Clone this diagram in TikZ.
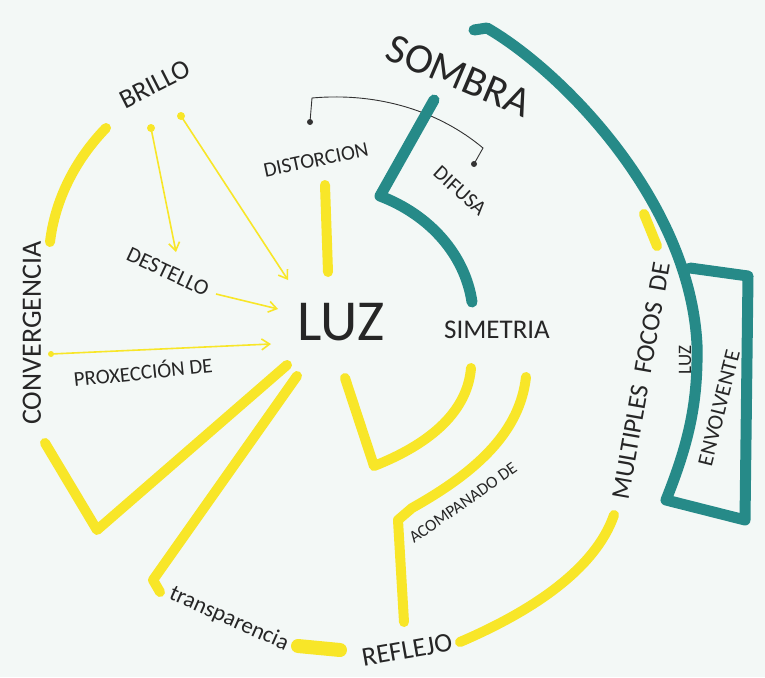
\documentclass[tikz,border=0pt]{standalone}
\usepackage{fontspec}
\setmainfont{Carlito}
\usetikzlibrary{arrows.meta}
\definecolor{marker}{RGB}{248,230,40}
\definecolor{petrol}{RGB}{38,138,136}
\definecolor{paper}{RGB}{243,248,246}
\newcommand{\hwfont}[1]{\fontsize{#1}{#1}\selectfont}
\tikzset{
  hand/.style={text=black!85, inner sep=0pt},
  fat/.style={draw=marker, line width=10pt, line cap=round, line join=round},
  tealpen/.style={draw=petrol, line width=11pt, line cap=round, line join=round},
  pointer/.style={draw=marker, line width=1.6pt, -{Straight Barb[length=8pt,width=11pt]}},
  dot/.style={circle, fill=#1, inner sep=0pt, minimum size=7pt}
}
\begin{document}
\begin{tikzpicture}[x=1pt,y=-1pt]
\fill[paper] (0,0) rectangle (765,677);
\useasboundingbox (0,0) rectangle (765,677);

% words
\node[hand, font=\hwfont{58}] (luz) at (341,322) {LUZ};
\node[hand, font=\hwfont{42}, rotate=-23] (sombra) at (459,76) {SOMBRA};
\node[hand, font=\hwfont{27}, rotate=27] (brillo) at (155,84) {BRILLO};
\node[hand, font=\hwfont{21}, rotate=12] (distorcion) at (316,160) {DISTORCION};
\node[hand, font=\hwfont{21}, rotate=-42] (difusa) at (460,191) {DIFUSA};
\node[hand, font=\hwfont{22}, rotate=-25] (destello) at (168,272) {DESTELLO};
\node[hand, font=\hwfont{21}, rotate=6] (proxeccion) at (143,371) {PROXECCIÓN DE};
\node[hand, font=\hwfont{28}, rotate=90] (convergencia) at (32,333) {CONVERGENCIA};
\node[hand, font=\hwfont{27}] (simetria) at (497,330) {SIMETRIA};
\node[hand, font=\hwfont{17}, rotate=35] (acompanado) at (463,503) {ACOMPANADO DE};
\node[hand, font=\hwfont{23}, rotate=-24] (transparencia) at (229,619) {transparencia};
\node[hand, font=\hwfont{27}, rotate=10] (reflejo) at (407,650) {REFLEJO};
\node[hand, font=\hwfont{26}, rotate=80] (multiples) at (641,381) {MULTIPLES \ FOCOS \ DE};
\node[hand, font=\hwfont{19}, rotate=90] (focosluz) at (685,360) {LUZ};
\node[hand, font=\hwfont{22}, rotate=76] (envolvente) at (719,408) {ENVOLVENTE};

% yellow marker
\draw[fat] (106,128) .. controls (75,160) and (55,200) .. (50,242);
\draw[fat] (45,443) -- (97,530) -- (287,365);
\draw[fat] (297,376) -- (153,580) -- (160,592);
\draw[fat, line width=14pt] (298,646) -- (340,650);
\draw[fat] (460,642) .. controls (530,612) and (595,570) .. (614,515);
\draw[fat] (404,622) -- (398,520) -- (412,508) .. controls (480,470) and (520,430) .. (526,377);
\draw[fat] (345,378) -- (374,466) .. controls (440,440) and (468,405) .. (471,368);
\draw[fat] (325,185) -- (328,272);
\draw[fat] (644,214) -- (657,246);

% thin arrows
\node[dot=marker, minimum size=8pt] (d1) at (151,128) {};
\node[dot=marker, minimum size=8pt] (d2) at (181,116) {};
\node[dot=marker, minimum size=6pt] (d3) at (51,354) {};
\coordinate (t1) at (176,252);
\coordinate (t2) at (288,280);
\coordinate (t3) at (278,309);
\coordinate (t4) at (271,344);
\coordinate (s3) at (216,294);
\draw[pointer] (d1.center) -- (t1);
\draw[pointer] (d2.center) -- (t2);
\draw[pointer] (s3) -- (t3);
\draw[pointer] (d3.center) -- (t4);

% black bracket
\node[dot=black!80, minimum size=6pt] (b1) at (310,122) {};
\node[dot=black!80, minimum size=6pt] (b2) at (474,164) {};
\draw[black!80, line width=0.9pt] (b1.center) -- (312,98) .. controls (380,92) and (440,112) .. (483,148) -- (b2.center);

% teal marker
\draw[tealpen] (474,30) -- (487,28) .. controls (560,70) and (690,200) .. (697,345) .. controls (698,400) and (690,440) .. (666,500) -- (745,520) -- (748,276) -- (690,268);
\draw[tealpen] (434,100) -- (380,196) .. controls (430,215) and (465,255) .. (472,302);
\end{tikzpicture}
\end{document}
